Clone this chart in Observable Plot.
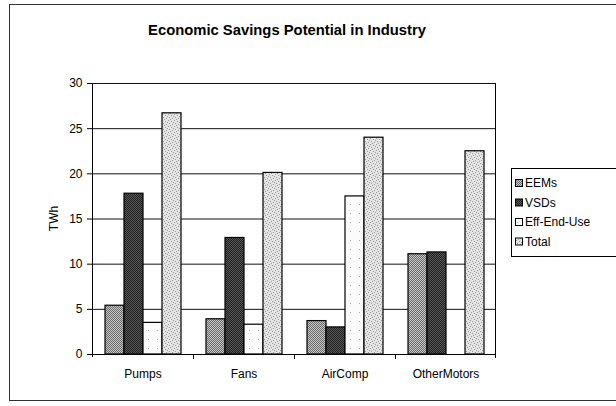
<!DOCTYPE html>
<html>
<head>
<meta charset="utf-8">
<script src="https://cdn.jsdelivr.net/npm/d3@7"></script>
<script src="https://cdn.jsdelivr.net/npm/@observablehq/plot@0.6"></script>
<style>
  html, body { margin: 0; padding: 0; background: #fff; }
  #chart { position: relative; width: 616px; height: 406px; }
  svg { font-family: "Liberation Sans", Arial, sans-serif; }
</style>
</head>
<body>
<div id="chart"></div>
<script>
const categories = ["Pumps", "Fans", "AirComp", "OtherMotors"];
const series = ["EEMs", "VSDs", "Eff-End-Use", "Total"];
const eems = [5.4, 3.9, 3.7, 11.1];
const vsds = [17.8, 12.9, 3.0, 11.3];
const effEndUse = [3.5, 3.3, 17.5, 0];
const total = [26.7, 20.1, 24.0, 22.5];
const yTicks = [0, 5, 10, 15, 20, 25, 30];
const fills = ["url(#p-eems)", "url(#p-vsds)", "url(#p-eff)", "url(#p-total)"];

const valuesBySeries = [eems, vsds, effEndUse, total];
const data = [];
categories.forEach((c, i) => {
  series.forEach((s, j) => data.push({category: c, series: s, value: valuesBySeries[j][i]}));
});

const plot = Plot.plot({
  width: 616,
  height: 406,
  marginLeft: 92,
  marginRight: 120,
  marginTop: 83,
  marginBottom: 52,
  style: {fontFamily: "Liberation Sans, Arial, sans-serif", fontSize: "12px", color: "#000", background: "transparent"},
  fx: {domain: categories, paddingInner: 0, paddingOuter: 0, label: null},
  x: {domain: series, paddingInner: 0, paddingOuter: 0.65, axis: null},
  y: {domain: [0, 30], label: null},
  color: {domain: series, range: fills},
  marks: [
    Plot.ruleY(yTicks.slice(1), {stroke: "#111", strokeWidth: 1}),
    Plot.barY(data, {fx: "category", x: "series", y: "value", fill: "series", stroke: "#000", strokeWidth: 1.2}),
    Plot.ruleY([0], {stroke: "#000", strokeWidth: 1}),
    Plot.axisY({ticks: yTicks, tickSize: 5, tickPadding: 5, fontSize: 12, label: null}),
    Plot.axisFx({anchor: "bottom", tickSize: 0, tickPadding: 15, fontSize: 12, label: null})
  ]
});

document.getElementById("chart").appendChild(plot);
const svg = d3.select(plot);

// patterns
const defs = svg.insert("defs", ":first-child");
function checker(id, a, b) {
  const p = defs.append("pattern").attr("id", id).attr("patternUnits", "userSpaceOnUse")
    .attr("width", 2).attr("height", 2);
  p.append("rect").attr("width", 2).attr("height", 2).attr("fill", a);
  p.append("rect").attr("width", 1).attr("height", 1).attr("fill", b);
  p.append("rect").attr("x", 1).attr("y", 1).attr("width", 1).attr("height", 1).attr("fill", b);
}
checker("p-eems", "#c8c8c8", "#6a6a6a");
checker("p-vsds", "#5a5a5a", "#1e1e1e");
(function () {
  const p = defs.append("pattern").attr("id", "p-total").attr("patternUnits", "userSpaceOnUse")
    .attr("width", 6).attr("height", 6);
  p.append("rect").attr("width", 6).attr("height", 6).attr("fill", "#e4e4e4");
  [[0,0],[3,1],[1,3],[4,4],[2,5],[5,2]].forEach(([x, y]) =>
    p.append("rect").attr("x", x).attr("y", y).attr("width", 1).attr("height", 1).attr("fill", "#9a9a9a"));
  const q = defs.append("pattern").attr("id", "p-eff").attr("patternUnits", "userSpaceOnUse")
    .attr("width", 9).attr("height", 9);
  q.append("rect").attr("width", 9).attr("height", 9).attr("fill", "#fbfbfb");
  q.append("rect").attr("x", 4).attr("y", 6).attr("width", 1).attr("height", 1).attr("fill", "#aaa");
})();

// plot borders and category ticks from library scales
const fx = plot.scale("fx");
const y = plot.scale("y");
const y0 = y.apply(0), y30 = y.apply(30);
const left = fx.apply(categories[0]);
const right = fx.apply(categories[categories.length - 1]) + fx.bandwidth;
const g = svg.append("g").attr("stroke", "#000").attr("fill", "none");
g.append("line").attr("x1", left + 0.5).attr("x2", left + 0.5).attr("y1", y30).attr("y2", y0 + 3);
g.append("line").attr("x1", right - 0.5).attr("x2", right - 0.5).attr("y1", y30).attr("y2", y0 + 4);
categories.slice(1).forEach(c => {
  const x = Math.round(fx.apply(c)) + 0.5;
  g.append("line").attr("x1", x).attr("x2", x).attr("y1", y0).attr("y2", y0 + 5);
});

// outer chart-area frame
svg.append("rect").attr("x", 9.5).attr("y", 4.5).attr("width", 620).attr("height", 396)
  .attr("fill", "none").attr("stroke", "#333").attr("stroke-width", 1);

// title
svg.append("text").attr("x", 287).attr("y", 35).attr("text-anchor", "middle")
  .attr("font-size", 14.8).attr("font-weight", "bold").attr("fill", "#000")
  .text("Economic Savings Potential in Industry");

// y label
svg.append("text").attr("transform", `translate(58,${(y0 + y30) / 2}) rotate(-90)`)
  .attr("text-anchor", "middle").attr("font-size", 12).attr("fill", "#000").text("TWh");

// legend
const lg = svg.append("g");
lg.append("rect").attr("x", 511.5).attr("y", 168.5).attr("width", 120).attr("height", 88)
  .attr("fill", "#fff").attr("stroke", "#000");
const color = plot.scale("color");
series.forEach((s, i) => {
  const cy = 183 + i * 19.5;
  lg.append("rect").attr("x", 515.5).attr("y", cy - 3.5).attr("width", 7).attr("height", 7)
    .attr("fill", color.apply(s)).attr("stroke", "#000");
  lg.append("text").attr("x", 525).attr("y", cy + 4).attr("text-anchor", "start")
    .attr("font-size", 12).attr("fill", "#000").text(s);
});
</script>
</body>
</html>
